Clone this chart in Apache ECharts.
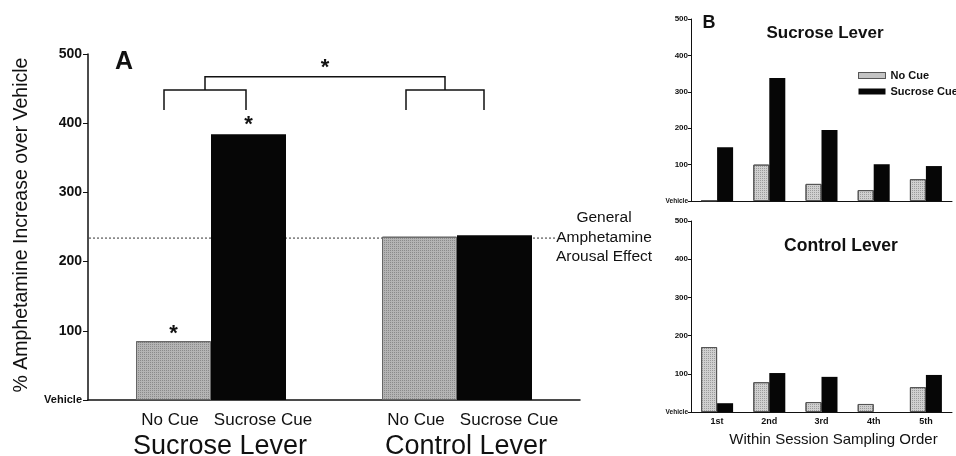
<!DOCTYPE html>
<html><head><meta charset="utf-8">
<script src="https://cdn.jsdelivr.net/npm/echarts@6/dist/echarts.min.js"></script>
<style>html,body{margin:0;padding:0;background:#fff}#c{width:956px;height:456px}</style>
</head><body><div id="c"></div>
<script>
// ---------- data ----------
const groupsA = ['Sucrose Lever', 'Control Lever'];
const cueLabels = ['No Cue', 'Sucrose Cue'];
const noCueA = [85, 236];
const sucroseCueA = [384, 238];
const arousalEffect = 234;
const orderB = ['1st', '2nd', '3rd', '4th', '5th'];
const sucroseNoCueB = [2, 100, 47, 30, 60];
const sucroseCueB = [148, 338, 195, 101, 96];
const controlNoCueB = [170, 78, 26, 21, 65];
const controlCueB = [23, 102, 92, 0, 97];
const yMin = 0, yMax = 500, yStep = 100;

// ---------- styles ----------
const FONT = '"Liberation Sans", Arial, sans-serif';
const INK = '#111';
const greyA = '#b4b4b4';
const greyB = '#d0d0d0';
const black = '#060606';
const barWA = 75, barWB = 16;
const stipple = {symbol: 'rect', symbolSize: 1, dashArrayX: [1, 1], dashArrayY: [1, 1], rotation: 0, color: 'rgba(60,60,60,0.35)'};

const chart = echarts.init(document.getElementById('c'), null, {renderer: 'canvas'});

function yAxisCfg(grid, big) {
  return {
    type: 'value', gridIndex: grid, min: yMin, max: yMax, interval: yStep,
    splitLine: {show: false},
    axisLine: {show: true, lineStyle: {color: INK, width: big ? 1.5 : 1}},
    axisTick: {show: true, length: big ? 5 : 3, lineStyle: {color: INK, width: 1}},
    axisLabel: {
      color: INK, fontFamily: FONT, fontWeight: 'bold',
      fontSize: big ? 14 : 8, margin: big ? 6 : 3,
      formatter: v => v === 0 ? '{v|Vehicle}' : String(v),
      rich: {v: {fontSize: big ? 11 : 6.5, fontWeight: 'bold', fontFamily: FONT, color: INK}}
    }
  };
}

const option = {
  animation: false,
  backgroundColor: '#fff',
  grid: [
    {left: 88, top: 54, width: 492, height: 346, outerBoundsMode: 'none'},
    {left: 691, top: 19, width: 261, height: 182, outerBoundsMode: 'none'},
    {left: 691, top: 221, width: 261, height: 191, outerBoundsMode: 'none'}
  ],
  legend: {
    orient: 'vertical', left: 858, top: 70, itemWidth: 27, itemHeight: 6, itemGap: 5,
    padding: 0,
    textStyle: {fontFamily: FONT, fontWeight: 'bold', fontSize: 11, color: INK},
    data: [
      {name: 'No Cue', icon: 'rect', itemStyle: {color: greyB, borderColor: '#555', borderWidth: 1}},
      {name: 'Sucrose Cue', icon: 'rect', itemStyle: {color: black, borderWidth: 0}}
    ],
    selectedMode: false
  },
  xAxis: [
    {
      type: 'category', gridIndex: 0, data: groupsA,
      axisLine: {lineStyle: {color: INK, width: 1.5}},
      axisTick: {alignWithLabel: true, length: 5, lineStyle: {color: INK}},
      axisLabel: {
        interval: 0, margin: 9, color: INK, fontFamily: FONT,
        formatter: v => `{sp|}{nc|${cueLabels[0]}}{sc|${cueLabels[1]}}\n{sp2|}{g|${v}}`,
        rich: {
          sp: {width: 14},
          sp2: {width: 18},
          nc: {width: 90, align: 'center', fontSize: 17, fontFamily: FONT, color: INK, lineHeight: 22},
          sc: {width: 96, align: 'center', fontSize: 17, fontFamily: FONT, color: INK, lineHeight: 22},
          g: {fontSize: 27, fontFamily: FONT, color: INK, lineHeight: 31}
        }
      }
    },
    {
      type: 'category', gridIndex: 1, data: orderB,
      axisLine: {lineStyle: {color: INK, width: 1}},
      axisTick: {alignWithLabel: true, length: 3, lineStyle: {color: INK}},
      axisLabel: {show: false}
    },
    {
      type: 'category', gridIndex: 2, data: orderB,
      axisLine: {lineStyle: {color: INK, width: 1}},
      axisTick: {alignWithLabel: true, length: 3, lineStyle: {color: INK}},
      axisLabel: {interval: 0, margin: 5, color: INK, fontFamily: FONT, fontWeight: 'bold', fontSize: 9},
      name: 'Within Session Sampling Order', nameLocation: 'middle', nameGap: 20,
      nameTextStyle: {fontFamily: FONT, fontSize: 15, color: INK, padding: [0, 0, 0, 24]}
    }
  ],
  yAxis: [
    Object.assign(yAxisCfg(0, true), {
      name: '% Amphetamine Increase over Vehicle', nameLocation: 'middle', nameGap: 56, nameRotate: 90,
      nameTextStyle: {fontFamily: FONT, fontSize: 19.5, color: INK, padding: [0, 0, 0, 4]}
    }),
    yAxisCfg(1, false),
    yAxisCfg(2, false)
  ],
  series: [
    {name: 'No Cue', type: 'bar', xAxisIndex: 0, yAxisIndex: 0, data: noCueA, barWidth: barWA, barGap: '0%',
      itemStyle: {color: greyA, borderColor: '#666', borderWidth: 1, decal: stipple}},
    {name: 'Sucrose Cue', type: 'bar', xAxisIndex: 0, yAxisIndex: 0, data: sucroseCueA, barWidth: barWA, barGap: '0%',
      itemStyle: {color: black}},
    {name: 'No Cue', type: 'bar', xAxisIndex: 1, yAxisIndex: 1, data: sucroseNoCueB, barWidth: barWB, barGap: '0%',
      itemStyle: {color: greyB, borderColor: '#555', borderWidth: 1, decal: stipple}},
    {name: 'Sucrose Cue', type: 'bar', xAxisIndex: 1, yAxisIndex: 1, data: sucroseCueB, barWidth: barWB, barGap: '0%',
      itemStyle: {color: black}},
    {name: 'No Cue', type: 'bar', xAxisIndex: 2, yAxisIndex: 2, data: controlNoCueB, barWidth: barWB, barGap: '0%',
      itemStyle: {color: greyB, borderColor: '#555', borderWidth: 1, decal: stipple}},
    {name: 'Sucrose Cue', type: 'bar', xAxisIndex: 2, yAxisIndex: 2, data: controlCueB, barWidth: barWB, barGap: '0%',
      itemStyle: {color: black}}
  ]
};
chart.setOption(option);

// ---------- annotations (positions derived from the axes) ----------
const P = (cat, val) => chart.convertToPixel({gridIndex: 0}, [cat, val]);
function txt(x, y, text, font, align) {
  return {type: 'text', x, y, z: 10, style: {text, font, fill: INK, textAlign: align || 'center', textVerticalAlign: 'middle'}};
}
function poly(points) {
  return {type: 'polyline', z: 10, shape: {points}, style: {stroke: INK, lineWidth: 1.5, fill: null}};
}
const g = [];
const cL = P(0, 0), cR = P(1, 0);
const bracketLow = 419, bracketMid = 448, bracketTop = 467;
const yLow = P(0, bracketLow)[1], yMid = P(0, bracketMid)[1], yTop = P(0, bracketTop)[1];
const lL = cL[0] - 47, lR = cL[0] + 35, rL = cR[0] - 51, rR = cR[0] + 27;
g.push(poly([[lL, yLow], [lL, yMid], [lR, yMid], [lR, yLow]]));
g.push(poly([[rL, yLow], [rL, yMid], [rR, yMid], [rR, yLow]]));
const mL = (lL + lR) / 2, mR = (rL + rR) / 2;
g.push(poly([[mL, yMid], [mL, yTop], [mR, yTop], [mR, yMid]]));
const starFont = 'bold 22px ' + FONT;
g.push(txt((mL + mR) / 2, yTop - 9, '*', starFont));
const scTop = P(0, sucroseCueA[0]);
g.push(txt(cL[0] + barWA / 2, scTop[1] - 9, '*', starFont));
const ncTop = P(0, noCueA[0]);
g.push(txt(cL[0] - barWA / 2, ncTop[1] - 7, '*', starFont));
// dotted general-arousal line
const yd = P(0, arousalEffect)[1];
g.push({type: 'line', z: 1, shape: {x1: 89, y1: yd, x2: 555, y2: yd}, style: {stroke: '#333', lineWidth: 1, lineDash: [2, 2]}});
g.push(txt(604, yd - 20, 'General', '15.5px ' + FONT));
g.push(txt(604, yd, 'Amphetamine', '15.5px ' + FONT));
g.push(txt(604, yd + 19, 'Arousal Effect', '15.5px ' + FONT));
// panel letters and titles
g.push(txt(124, 62, 'A', 'bold 25px ' + FONT));
g.push(txt(709, 23, 'B', 'bold 18px ' + FONT));
g.push(txt(825, 33, 'Sucrose Lever', 'bold 17px ' + FONT));
g.push(txt(841, 246, 'Control Lever', 'bold 17.5px ' + FONT));
chart.setOption({graphic: g});
</script>
</body></html>
